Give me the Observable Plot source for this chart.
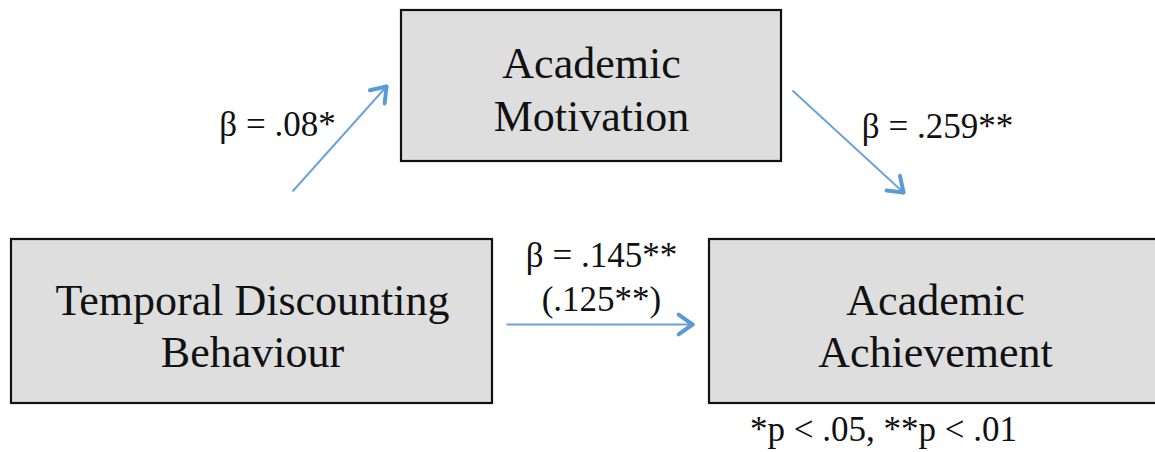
<!DOCTYPE html>
<html>
<head>
<meta charset="utf-8">
<script src="https://cdn.jsdelivr.net/npm/d3@7"></script>
<script src="https://cdn.jsdelivr.net/npm/@observablehq/plot@0.6"></script>
<style>
  html, body { margin: 0; padding: 0; background: #fff; overflow: hidden; }
  #chart svg { display: block; }
</style>
</head>
<body>
<div id="chart"></div>
<script>
// Diagram nodes (pixel-space layout of the path model)
const nodeNames = ["Academic\nMotivation", "Temporal Discounting\nBehaviour", "Academic\nAchievement"];
const nodeX1 = [401, 11, 709];
const nodeX2 = [781, 492, 1162];
const nodeY1 = [10, 239, 239];
const nodeY2 = [161, 403, 403];
const nodeLabelX = [591, 252, 935];
const nodeLabelY = [87, 323.5, 323.5];

// Paths (arrows) between nodes
const pathFromX = [292, 792, 506];
const pathFromY = [191, 90, 324];
const pathToX = [386, 903, 692];
const pathToY = [86, 192, 324];

// Coefficient labels
const coefTexts = ["β = .08*", "β = .259**", "β = .145**", "(.125**)"];
const coefX = [277, 937, 601, 601];
const coefY = [124, 126, 255, 299];

const noteText = "*p < .05, **p < .01";
const noteX = 883;
const noteY = 429;

const nodes = nodeNames.map((name, i) => ({
  name, x1: nodeX1[i], x2: nodeX2[i], y1: nodeY1[i], y2: nodeY2[i],
  cx: nodeLabelX[i], cy: nodeLabelY[i]
}));
const paths = pathFromX.map((x, i) => ({x1: x, y1: pathFromY[i], x2: pathToX[i], y2: pathToY[i]}));
// arrowhead wings derived from each path direction
const wings = [];
paths.forEach(p => {
  const a = Math.atan2(p.y2 - p.y1, p.x2 - p.x1);
  const L = 17, h = 0.62;
  for (const s of [-1, 1]) {
    wings.push({x1: p.x2, y1: p.y2, x2: p.x2 - L * Math.cos(a + s * h), y2: p.y2 - L * Math.sin(a + s * h)});
  }
});
const coefs = coefTexts.map((t, i) => ({t, x: coefX[i], y: coefY[i]}));

const serif = "'Liberation Serif', 'Times New Roman', Times, serif";

const chart = Plot.plot({
  width: 1155,
  height: 452,
  margin: 0,
  x: {domain: [0, 1155], range: [0, 1155], axis: null},
  y: {domain: [0, 452], range: [0, 452], axis: null},
  style: {background: "#fff"},
  marks: [
    Plot.rect(nodes, {x1: "x1", x2: "x2", y1: "y1", y2: "y2", fill: "#dedede", stroke: "#111", strokeWidth: 2.2, clip: "frame"}),
    Plot.text(nodes, {x: "cx", y: "cy", text: "name", fontSize: 44, lineHeight: 1.2, fontFamily: serif, fill: "#111", textAnchor: "middle"}),
    Plot.link(paths, {x1: "x1", y1: "y1", x2: "x2", y2: "y2", stroke: "#6fa3d8", strokeWidth: 2}),
    Plot.link(wings, {x1: "x1", y1: "y1", x2: "x2", y2: "y2", stroke: "#5b9bd5", strokeWidth: 4, strokeLinecap: "round"}),
    Plot.text(coefs, {x: "x", y: "y", text: "t", fontSize: 35, fontFamily: serif, fill: "#111", textAnchor: "middle"}),
    Plot.text([noteText], {x: () => noteX, y: () => noteY, text: d => d, fontSize: 35, fontFamily: serif, fill: "#111", textAnchor: "middle"})
  ]
});
document.getElementById("chart").appendChild(chart);
</script>
</body>
</html>
